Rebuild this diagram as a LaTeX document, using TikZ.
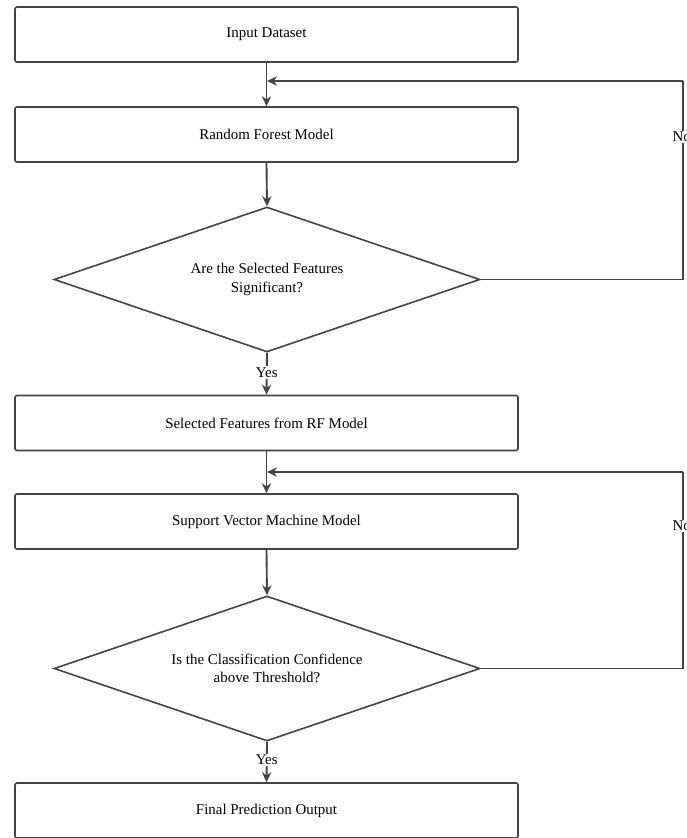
\documentclass[tikz,border=0pt]{standalone}
\usepackage{fontspec}
\setmainfont{Liberation Serif}
\usetikzlibrary{shapes.geometric,arrows.meta}
\definecolor{ln}{HTML}{444444}
\tikzset{
  procbox/.style={draw=ln, line width=1.2pt, rounded corners=1.5pt, fill=white,
    minimum width=377.25pt, minimum height=41.25pt, inner sep=0pt, font=\fontsize{11.2}{13}\selectfont},
  decide/.style={draw=ln, line width=1.2pt, shape=diamond, aspect=2.94, inner sep=0pt,
    minimum width=319.5pt, minimum height=108.75pt, align=center, font=\fontsize{11.2}{14}\selectfont},
  conn/.style={draw=ln, line width=1.4pt, -{Stealth[length=7.5pt,width=7pt]}},
  plain/.style={draw=ln, line width=1.2pt},
  lbl/.style={fill=white, inner sep=1pt, font=\fontsize{11.2}{13}\selectfont}
}
\begin{document}
\begin{tikzpicture}[x=0.75pt, y=-0.75pt]
\useasboundingbox (0,0) rectangle (686,838);
\clip (0,0) rectangle (686,838);
\node[procbox] (b1) at (266.5,34.5) {Input Dataset};
\node[procbox] (b2) at (266.5,134.5) {Random Forest Model};
\node[decide] (d1) at (267,279.5) {Are the Selected Features\\Significant?};
\node[procbox] (b3) at (266.5,423) {Selected Features from RF Model};
\node[procbox] (b4) at (266.5,521.5) {Support Vector Machine Model};
\node[decide] (d2) at (267,668.5) {Is the Classification Confidence\\above Threshold?};
\node[procbox] (b5) at (266.5,810.5) {Final Prediction Output};

\coordinate (r1b) at (683,279.5);
\coordinate (r1t) at (683,81);
\coordinate (m1) at (267,81);
\coordinate (r2b) at (683,668.5);
\coordinate (r2t) at (683,472);
\coordinate (m2) at (267,472);

\draw[conn] (b1.south) -- (b2.north);
\draw[conn] (b2.south) -- (d1.north);
\draw[conn] (d1.south) -- node[lbl, pos=0.47] (y1) {Yes} (b3.north);
\draw[conn] (b3.south) -- (b4.north);
\draw[conn] (b4.south) -- (d2.north);
\draw[conn] (d2.south) -- node[lbl, pos=0.45] (y2) {Yes} (b5.north);

\draw[plain] (d1.east) -- (r1b) -- (r1t);
\draw[conn] (r1t) -- (m1);
\draw[plain] (d2.east) -- (r2b) -- (r2t);
\draw[conn] (r2t) -- (m2);
\node[lbl, anchor=west] (n1) at (671,137) {No};
\node[lbl, anchor=west] (n2) at (671,526) {No};
\end{tikzpicture}
\end{document}
